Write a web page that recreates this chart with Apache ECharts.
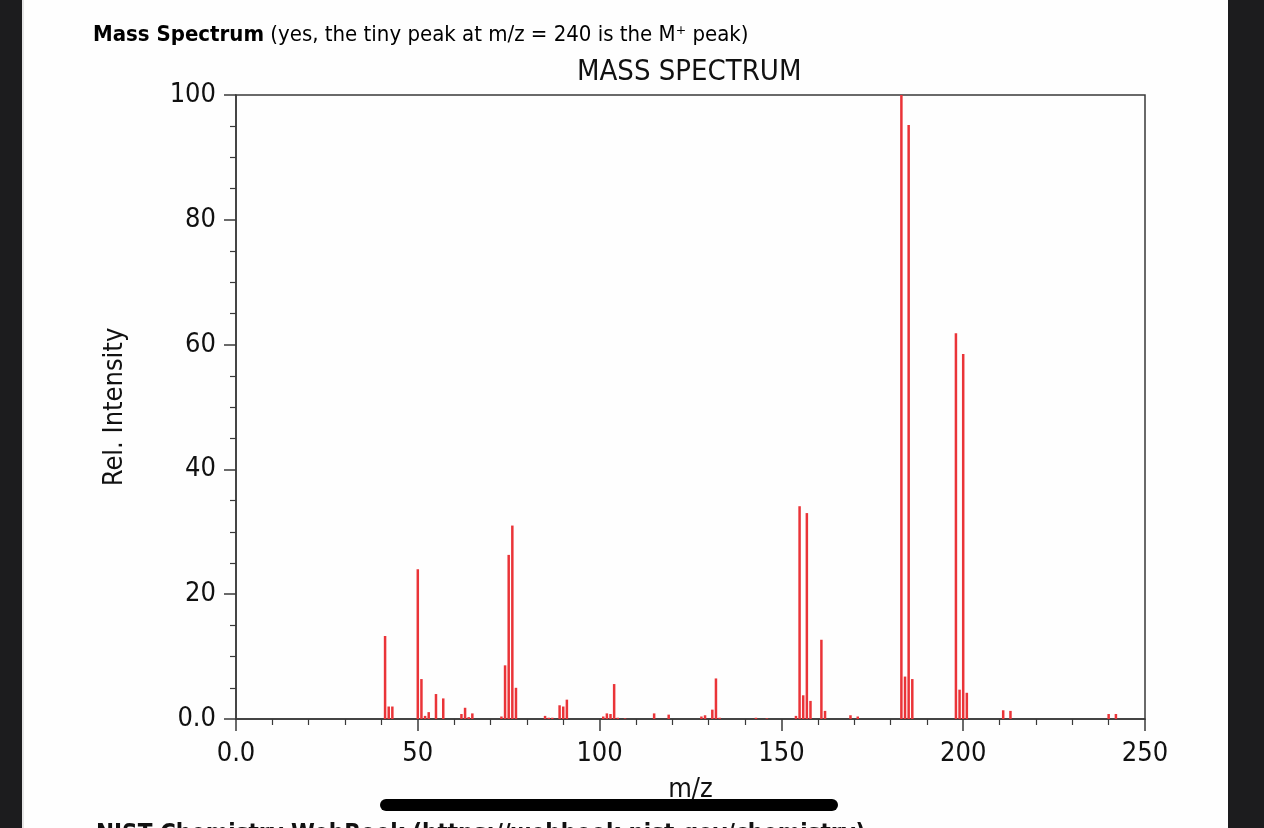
<!DOCTYPE html>
<html>
<head>
<meta charset="utf-8">
<script src="https://cdn.jsdelivr.net/npm/echarts@6/dist/echarts.min.js"></script>
<style>
  html, body { margin: 0; padding: 0; background: #1c1c1e; overflow: hidden; }
  #page { position: absolute; left: 22px; top: 0; width: 1206px; height: 828px; background: #fefefe; border-left: 2px solid #e6e6e6; box-sizing: border-box; }
  #chart { position: absolute; left: 0; top: 0; width: 1264px; height: 828px; }
</style>
</head>
<body>
<div id="page"></div>
<div id="chart"></div>
<script>
// m/z values and relative intensities
const mzValues = [41, 42, 43, 50, 51, 52, 53, 55, 57, 62, 63, 64, 65, 73, 74, 75, 76, 77,
  85, 86, 87, 89, 90, 91, 101, 102, 103, 104, 105, 107, 115, 119, 128, 129, 131, 132, 133,
  143, 146, 154, 155, 156, 157, 158, 161, 162, 169, 171, 183, 184, 185, 186, 198, 199, 200, 201,
  211, 213, 240, 242];
const intensities = [13.3, 2.0, 2.0, 24.0, 6.4, 0.5, 1.1, 4.0, 3.3, 0.8, 1.8, 0.3, 0.9, 0.4, 8.6, 26.3, 31.0, 5.0,
  0.5, 0.2, 0.2, 2.2, 2.0, 3.1, 0.4, 0.9, 0.8, 5.6, 0.2, 0.1, 0.9, 0.7, 0.4, 0.6, 1.5, 6.5, 0.2,
  0.2, 0.1, 0.5, 34.1, 3.8, 33.0, 2.9, 12.7, 1.3, 0.6, 0.4, 100, 6.8, 95.2, 6.4, 61.8, 4.7, 58.5, 4.2,
  1.4, 1.3, 0.8, 0.8];
const xTicks = { min: 0, max: 250, interval: 50 };
const yTicks = { min: 0, max: 100, interval: 20 };

const pageTitleBold = 'Mass Spectrum';
const pageTitleRest = ' (yes, the tiny peak at m/z = 240 is the M\u207A peak)';
const chartTitle = 'MASS SPECTRUM';
const xName = 'm/z';
const yName = 'Rel. Intensity';
const footerText = 'NIST Chemistry WebBook (https://webbook.nist.gov/chemistry)';

const seriesData = mzValues.map((m, i) => [m, intensities[i]]);
const fmt = v => (v === 0 ? '0.0' : String(v));
const FONT = 'DejaVu Sans Condensed';
const axisColor = '#3a3a3a';

const chart = echarts.init(document.getElementById('chart'), null, { renderer: 'canvas' });
chart.setOption({
  backgroundColor: 'transparent',
  animation: false,
  title: [
    {
      text: '{b|' + pageTitleBold + '}{n|' + pageTitleRest + '}',
      left: 93, top: 24, padding: 0,
      textStyle: {
        fontWeight: 'normal',
        rich: {
          b: { fontFamily: FONT, fontWeight: 'bold', fontSize: 22, color: '#000' },
          n: { fontFamily: FONT, fontWeight: 'normal', fontSize: 22, color: '#000' }
        }
      }
    },
    {
      text: chartTitle,
      left: 577, top: 58, padding: 0,
      textStyle: { fontFamily: FONT, fontWeight: 'normal', fontSize: 29, color: '#111' }
    }
  ],
  grid: {
    left: 236, right: 119, top: 95, bottom: 109,
    show: true, borderColor: axisColor, borderWidth: 1.5, backgroundColor: 'transparent'
  },
  xAxis: {
    type: 'value', min: xTicks.min, max: xTicks.max, interval: xTicks.interval,
    name: xName, nameLocation: 'middle', nameGap: 57,
    nameTextStyle: { fontFamily: FONT, fontSize: 27, color: '#111' },
    axisLine: { show: true, lineStyle: { color: axisColor, width: 1.5 } },
    axisTick: { show: true, length: 12, lineStyle: { color: axisColor, width: 1.5 } },
    minorTick: { show: true, splitNumber: 5, length: 6, lineStyle: { color: axisColor, width: 1.2 } },
    splitLine: { show: false },
    axisLabel: { formatter: fmt, fontFamily: FONT, fontSize: 27, color: '#111', margin: 21 }
  },
  yAxis: {
    type: 'value', min: yTicks.min, max: yTicks.max, interval: yTicks.interval,
    name: yName, nameLocation: 'middle', nameGap: 108, nameRotate: 90,
    nameTextStyle: { fontFamily: FONT, fontSize: 27, color: '#111' },
    axisLine: { show: true, lineStyle: { color: axisColor, width: 1.5 } },
    axisTick: { show: true, length: 12, lineStyle: { color: axisColor, width: 1.5 } },
    minorTick: { show: true, splitNumber: 4, length: 6, lineStyle: { color: axisColor, width: 1.2 } },
    splitLine: { show: false },
    axisLabel: { formatter: fmt, fontFamily: FONT, fontSize: 27, color: '#111', margin: 20 }
  },
  series: [{
    type: 'bar',
    data: seriesData,
    barWidth: 2.5,
    itemStyle: { color: '#ea3438' },
    silent: true
  }],
  graphic: [
    {
      type: 'rect', z: 100,
      shape: { x: 380, y: 799, width: 458, height: 12, r: 6 },
      style: { fill: '#000' }
    },
    {
      type: 'text', z: 100, left: 96, top: 823,
      style: { text: footerText, fontFamily: FONT, fontSize: 24, fontWeight: 'bold', fill: '#111' }
    }
  ]
});
</script>
</body>
</html>
